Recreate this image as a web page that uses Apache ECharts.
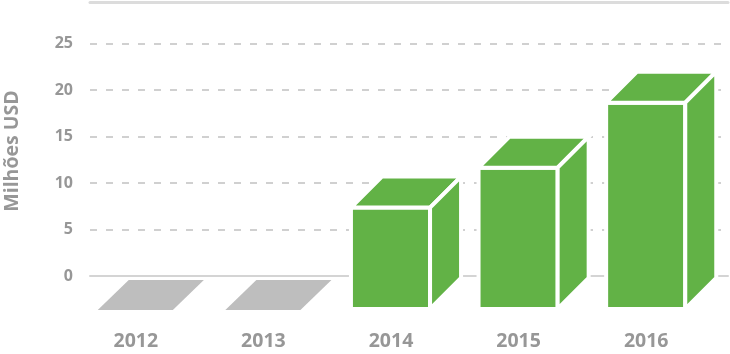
<!DOCTYPE html>
<html>
<head>
<meta charset="utf-8">
<script src="https://cdn.jsdelivr.net/npm/echarts@6/dist/echarts.min.js"></script>
<style>
  html, body { margin: 0; padding: 0; background: #fff; }
  #chart { width: 730px; height: 354px; }
</style>
</head>
<body>
<div id="chart"></div>
<script>
// dados do gráfico
var anos = ['2012', '2013', '2014', '2015', '2016'];
var valores = [0, 0, 10.7, 15, 22];
var eixoMax = 29.5;

var VERDE = '#62b246';
var CINZA = '#bebebe';
var TEXTO = '#979797';

// caixa "3D": face frontal, topo e lateral
function renderCaixa(params, api) {
  var i = api.value(0);
  var v = api.value(1);
  var base = api.coord([i, 0]);
  var topo = api.coord([i, v]);
  var banda = api.size([1, 0])[0];
  var c = base[0];
  var x0 = c - banda * 0.455;
  var x1 = c + banda * 0.165;
  var d = banda * 0.243; // profundidade
  var yBot = base[1] + d + 2;
  var yF = topo[1] + d;

  if (v <= 0) {
    // valor zero: só o "piso" cinza
    var yP = base[1] + d + 3;
    return {
      type: 'polygon',
      shape: { points: [[x0 + 2, yP], [x1 - 2, yP], [x1 - 2 + d, yP - d + 1], [x0 + 2 + d, yP - d + 1]] },
      style: { fill: CINZA }
    };
  }
  var tampa = [[x0, yF], [x1, yF], [x1 + d, yF - d], [x0 + d, yF - d]];
  var estilo = { fill: VERDE, stroke: '#fff', lineWidth: 4 };
  return {
    type: 'group',
    children: [
      { type: 'polygon', shape: { points: [[x0, yF], [x1, yF], [x1, yBot], [x0, yBot]] }, style: estilo },
      { type: 'polygon', shape: { points: tampa }, style: estilo },
      { type: 'polygon', shape: { points: [[x1, yF], [x1 + d, yF - d], [x1 + d, yBot - d], [x1, yBot]] }, style: estilo }
    ]
  };
}

var chart = echarts.init(document.getElementById('chart'), null, { renderer: 'canvas' });

var option = {
  animation: false,
  grid: { left: 90, right: 2, top: 2, bottom: 78, containLabel: false, outerBoundsMode: 'none' },
  xAxis: [{
    type: 'category',
    data: anos,
    axisLine: { show: true, lineStyle: { color: '#d4d4d4', width: 2 } },
    axisTick: { show: false },
    axisLabel: {
      margin: 55,
      padding: [0, 36, 0, 0],
      color: TEXTO,
      fontFamily: 'Open Sans',
      fontWeight: 'bold',
      fontSize: 19.5
    }
  }, {
    type: 'category',
    position: 'top',
    data: anos,
    axisLine: { show: true, lineStyle: { color: '#dcdcdc', width: 3 } },
    axisTick: { show: false },
    axisLabel: { show: false }
  }],
  yAxis: {
    type: 'value',
    min: 0,
    max: eixoMax,
    interval: 5,
    name: 'Milhões USD',
    nameLocation: 'middle',
    nameGap: 68,
    nameTextStyle: {
      color: TEXTO,
      fontFamily: 'Open Sans',
      fontWeight: 'bold',
      fontSize: 19.5,
      padding: [0, 24, 0, 0]
    },
    axisLine: { show: false },
    axisTick: { show: false },
    axisLabel: {
      margin: 17,
      color: TEXTO,
      fontFamily: 'Open Sans',
      fontWeight: 'bold',
      fontSize: 16,
      formatter: function (v) { return v > 25 ? '' : v; }
    },
    splitLine: {
      show: true,
      lineStyle: { color: '#d0d0d0', width: 2, type: [7, 9] }
    }
  },
  series: [{
    type: 'custom',
    renderItem: renderCaixa,
    clip: false,
    encode: { x: 0, y: 1 },
    data: valores.map(function (v, i) { return [i, v]; })
  }]
};

chart.setOption(option);
</script>
</body>
</html>
